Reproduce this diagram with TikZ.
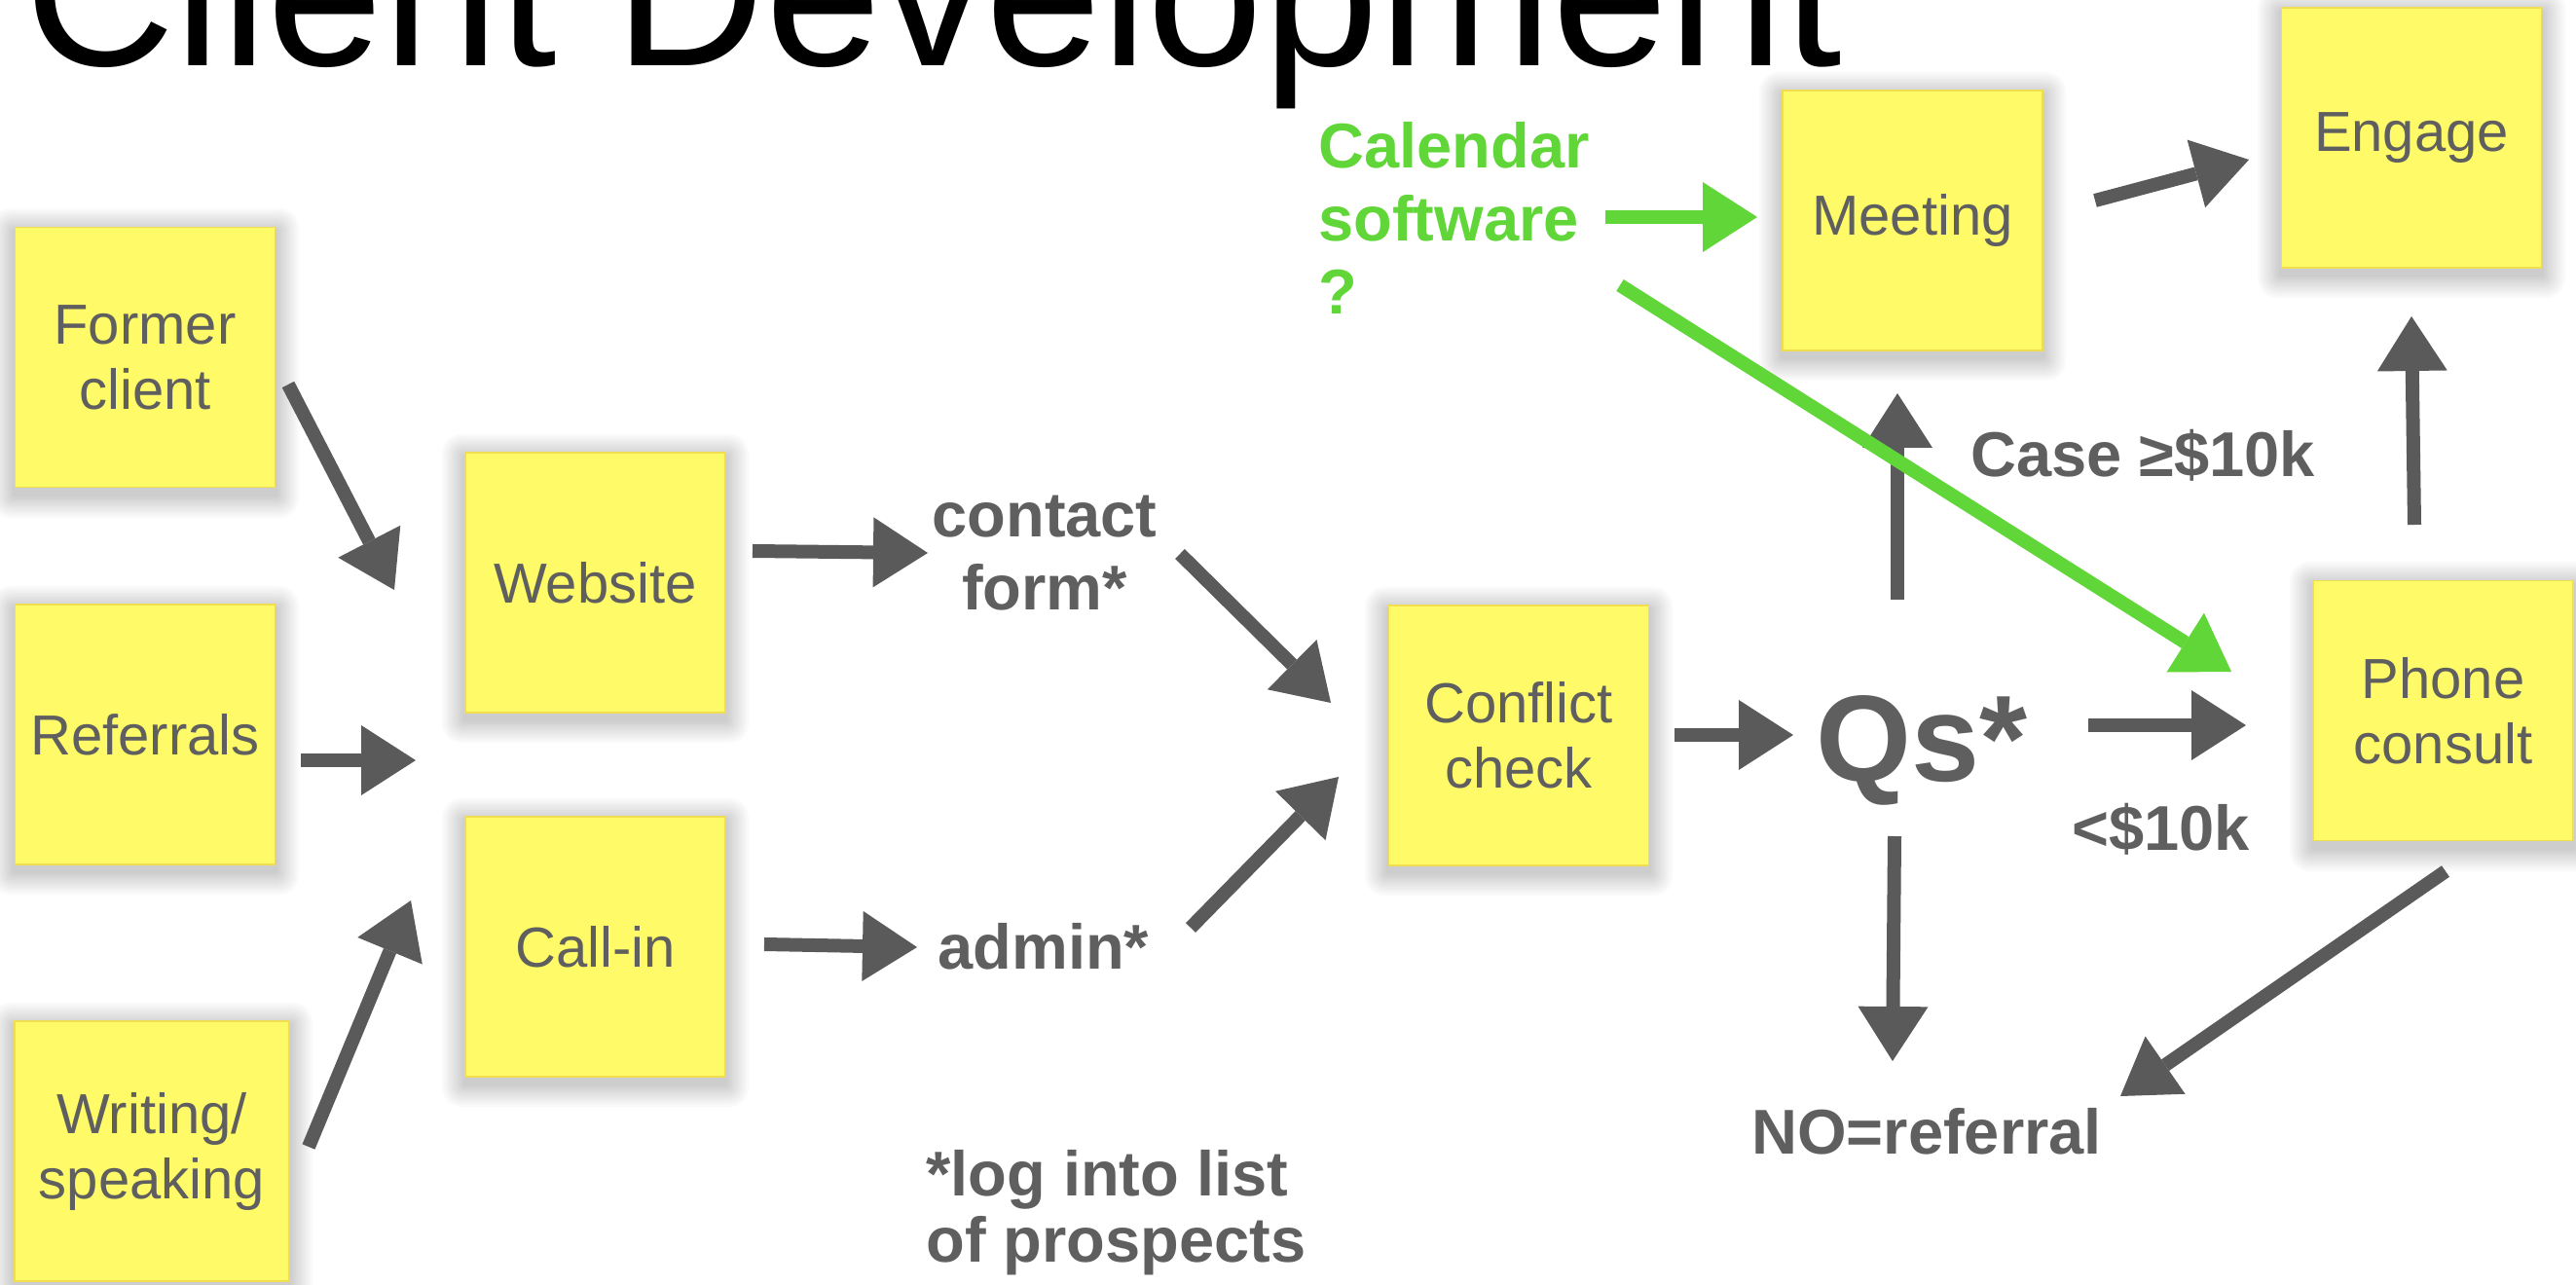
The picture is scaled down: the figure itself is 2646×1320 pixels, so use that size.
\documentclass[tikz,border=0pt]{standalone}
\usepackage{fontspec}
\setmainfont{Liberation Sans}
\usetikzlibrary{arrows.meta}
\definecolor{noteyellow}{RGB}{255,250,104}
\definecolor{noteedge}{RGB}{240,222,80}
\definecolor{txtgray}{RGB}{95,95,95}
\definecolor{arrgray}{RGB}{90,90,90}
\definecolor{calgreen}{RGB}{96,214,56}
\newcommand\noteshadow[4]{%
  \foreach \i in {1,...,10}{%
    \fill[black, opacity=0.02, rounded corners=\i*1pt]
      ({#1-#3/2-2.4*\i},{#2-#4/2-2.4*\i+5}) rectangle ({#1+#3/2+2.4*\i},{#2+#4/2+2.4*\i+7});
  }}
\tikzset{
  note/.style={fill=noteyellow, draw=noteedge, line width=0.8pt, minimum width=133.5pt,
    minimum height=133.5pt, inner sep=0pt, align=center, text=txtgray,
    font=\fontsize{29pt}{33.5pt}\selectfont},
  lbl/.style={text=txtgray, font=\bfseries\fontsize{32.5pt}{37.5pt}\selectfont, inner sep=0pt, align=center},
  glbl/.style={lbl, text=calgreen, align=left},
  arr/.style={draw=arrgray, line width=7pt, -{Triangle[length=28pt,width=36pt,line width=0pt]}},
  garr/.style={arr, draw=calgreen}
}
\begin{document}
\begin{tikzpicture}[x=0.5pt,y=-0.5pt]
\useasboundingbox (0,0) rectangle (2646,1320);
\fill[white] (0,0) rectangle (2646,1320);
\clip (0,0) rectangle (2646,1320);

% title
\node[anchor=base west, inner sep=0pt, font=\fontsize{107pt}{110pt}\selectfont] (title) at (25,68) {Client Development};

% shadows
\noteshadow{149}{367}{268}{268}
\noteshadow{611.5}{598.5}{267}{267}
\noteshadow{149}{754.5}{268}{267}
\noteshadow{611.5}{972.5}{267}{267}
\noteshadow{156}{1182.5}{282}{267}
\noteshadow{1560}{755.5}{268}{267}
\noteshadow{1964.5}{226.5}{267}{267}
\noteshadow{2477}{141.5}{268}{267}
\noteshadow{2509.5}{730}{267}{268}

% sticky notes
\node[note] (former) at (149,367) {Former\\client};
\node[note] (website) at (611.5,598.5) {Website};
\node[note] (referrals) at (149,754.5) {Referrals};
\node[note] (callin) at (611.5,972.5) {Call-in};
\node[note, minimum width=141pt] (writing) at (156,1182.5) {Writing/\\speaking};
\node[note] (conflict) at (1560,755.5) {Conflict\\check};
\node[note] (meeting) at (1964.5,226.5) {Meeting};
\node[note] (engage) at (2477,141.5) {Engage};
\node[note] (phone) at (2509.5,730) {Phone\\consult};

% labels
\node[lbl] (contact) at (1073,568) {contact\\form*};
\node[lbl, anchor=base west] (admin) at (963,995) {admin*};
\node[lbl, anchor=west, align=left, font=\bfseries\fontsize{32.5pt}{34pt}\selectfont] (log) at (951,1246) {*log into list\\of prospects};
\node[glbl, anchor=west] (calendar) at (1354,224) {Calendar\\software\\?};
\node[lbl, anchor=base west, font=\bfseries\fontsize{63pt}{66pt}\selectfont] (qs) at (1865,802) {Qs*};
\node[lbl, anchor=base west] (big) at (2024,490) {Case ≥\$10k};
\node[lbl, anchor=base west] (small) at (2128,873) {<\$10k};
\node[lbl, anchor=base west] (noref) at (1799,1185) {NO=referral};

% connector end points
\coordinate (a1s) at (296,395);   \coordinate (a1e) at (405,606);
\coordinate (a2s) at (309,781);   \coordinate (a2e) at (427,781);
\coordinate (a3s) at (317,1178);  \coordinate (a3e) at (422,925);
\coordinate (a4s) at (773,566);   \coordinate (a4e) at (953,568);
\coordinate (a5s) at (1212,569);  \coordinate (a5e) at (1367,722);
\coordinate (a6s) at (785,970);   \coordinate (a6e) at (942,973);
\coordinate (a7s) at (1223,953);  \coordinate (a7e) at (1375,798);
\coordinate (a8s) at (1720,755);  \coordinate (a8e) at (1842,755);
\coordinate (a9s) at (2145,745);  \coordinate (a9e) at (2307,745);
\coordinate (a10s) at (1949,616); \coordinate (a10e) at (1949,404);
\coordinate (a11s) at (1946,859); \coordinate (a11e) at (1944,1090);
\coordinate (a12s) at (2512,895); \coordinate (a12e) at (2178,1126);
\coordinate (a13s) at (2480,539); \coordinate (a13e) at (2477,325);
\coordinate (a14s) at (2152,206); \coordinate (a14e) at (2310,164);
\coordinate (g1s) at (1649,223);  \coordinate (g1e) at (1805,223);
\coordinate (g2s) at (1664,293);  \coordinate (g2e) at (2292,690);

% connectors
\draw[arr] (a1s) -- (a1e);
\draw[arr] (a2s) -- (a2e);
\draw[arr] (a3s) -- (a3e);
\draw[arr] (a4s) -- (a4e);
\draw[arr] (a5s) -- (a5e);
\draw[arr] (a6s) -- (a6e);
\draw[arr] (a7s) -- (a7e);
\draw[arr] (a8s) -- (a8e);
\draw[arr] (a9s) -- (a9e);
\draw[arr] (a10s) -- (a10e);
\draw[arr] (a11s) -- (a11e);
\draw[arr] (a12s) -- (a12e);
\draw[arr] (a13s) -- (a13e);
\draw[arr] (a14s) -- (a14e);
\draw[garr] (g1s) -- (g1e);
\draw[garr] (g2s) -- (g2e);
\end{tikzpicture}
\end{document}
